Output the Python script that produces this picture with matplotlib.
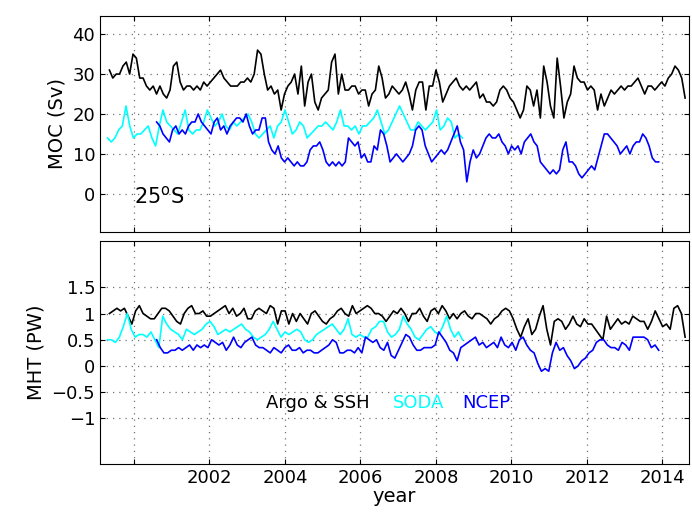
import numpy as np
import matplotlib.pyplot as plt

# MOC (Sv)
moc_argo = [31,29,30,30,32,33,30,35,34,29,29,27,26,27,25,27,25,24,26,32,33,28,26,27,27,26,27,26,28,27,28,29,30,31,29,28,27,27,27,28,28,29,28,30,36,35,30,26,27,25,26,21,25,27,28,30,25,32,22,28,30,23,21,24,25,26,33,35,25,30,26,26,27,27,25,26,26,22,25,26,32,29,24,25,27,26,25,26,28,25,21,26,28,28,21,27,27,31,28,23,25,27,28,29,27,26,27,26,27,28,24,25,23,23,22,23,26,27,26,24,23,21,19,21,27,26,22,26,19,32,28,22,19,34,27,19,23,25,32,29,28,28,26,27,26,21,25,22,24,26,25,26,27,26,27,27,28,29,27,25,27,27,26,27,28,27,29,30,32,31,29,24]
moc_soda = [14,13,14,16,17,22,17,14,15,15,16,17,14,12,17,21,18,17,16,15,18,21,16,15,16,16,18,21,19,17,18,20,17,16,18,17,18,19,20,18,15,14,15,16,17,14,17,18,21,18,15,16,18,17,14,15,16,17,17,18,17,16,18,21,17,17,16,17,15,17,17,18,19,21,18,15,16,18,20,22,20,18,16,16,18,17,16,17,18,21,16,17,19,18,14,15,14]
moc_ncep = [18,17,15,14,13,16,17,15,16,15,17,18,18,20,18,17,16,15,18,19,16,17,15,17,18,19,19,18,20,17,15,16,16,19,19,13,11,10,12,9,8,9,8,7,8,7,7,8,11,12,12,13,11,8,7,8,7,8,7,8,14,13,12,13,9,10,8,8,12,11,16,15,12,8,9,10,9,8,9,10,12,16,17,16,12,10,8,9,10,11,10,11,13,15,17,13,11,3,8,11,9,10,12,14,15,14,14,15,13,12,10,12,11,12,10,13,14,15,13,12,8,7,6,5,6,5,6,11,13,8,8,7,5,4,5,6,7,6,9,12,15,15,14,13,12,10,11,12,10,12,13,13,15,14,12,9,8,8]

# MHT (PW)
mht_argo = [1.0,1.05,1.1,1.05,1.1,0.95,0.8,1.05,1.15,1.0,0.95,0.9,0.9,1.0,1.1,1.1,1.05,0.95,0.85,0.8,1.0,1.1,1.15,1.0,1.0,1.05,0.95,0.95,1.0,1.05,1.1,1.15,1.0,1.1,0.95,1.0,1.1,0.9,0.9,1.05,1.1,1.05,1.0,1.15,1.1,0.8,1.05,1.05,0.8,1.0,0.85,1.0,0.9,0.8,1.0,1.05,0.95,0.85,0.8,0.9,0.95,1.05,1.1,1.0,0.95,1.15,1.0,1.05,1.1,1.15,1.1,1.0,1.0,0.95,0.85,0.95,1.05,1.0,1.1,1.0,0.85,1.0,1.0,1.1,0.95,0.85,1.05,1.1,1.0,1.15,1.05,0.9,1.0,0.9,1.0,1.05,0.95,0.9,1.0,1.0,0.95,0.9,0.8,0.9,0.95,1.05,1.1,1.05,0.9,0.7,0.55,0.75,0.9,0.6,0.7,0.95,1.15,0.7,0.4,0.85,0.9,0.85,0.7,0.8,0.95,0.8,0.75,0.9,0.8,0.8,0.7,0.6,0.5,0.95,0.7,0.8,0.9,0.8,0.85,0.8,0.95,0.9,0.85,0.85,0.7,0.85,1.05,0.9,0.75,0.8,0.7,1.1,1.15,1.0,0.55]
mht_soda = [0.5,0.5,0.45,0.55,0.75,1.0,0.7,0.55,0.6,0.6,0.55,0.65,0.5,0.35,0.95,0.8,0.7,0.65,0.6,0.5,0.7,0.65,0.6,0.65,0.7,0.8,0.85,0.75,0.6,0.65,0.7,0.65,0.7,0.75,0.8,0.7,0.65,0.55,0.5,0.55,0.6,0.7,0.85,0.7,0.55,0.65,0.6,0.65,0.7,0.65,0.5,0.45,0.5,0.6,0.65,0.7,0.75,0.8,0.7,0.6,0.7,0.9,0.6,0.55,0.6,0.55,0.55,0.7,0.75,0.85,0.85,0.65,0.55,0.6,0.7,0.95,0.8,0.7,0.55,0.5,0.6,0.7,0.75,0.65,0.6,0.75,0.95,0.7,0.55,0.65,0.5]
mht_ncep = [0.5,0.35,0.25,0.25,0.3,0.3,0.35,0.3,0.35,0.4,0.3,0.4,0.35,0.4,0.35,0.5,0.45,0.4,0.45,0.3,0.4,0.55,0.4,0.35,0.45,0.5,0.55,0.4,0.35,0.35,0.3,0.25,0.35,0.3,0.25,0.35,0.4,0.3,0.3,0.35,0.25,0.3,0.3,0.25,0.25,0.3,0.35,0.4,0.5,0.45,0.25,0.25,0.3,0.3,0.25,0.35,0.25,0.55,0.5,0.45,0.5,0.35,0.3,0.45,0.2,0.15,0.3,0.45,0.6,0.55,0.4,0.3,0.3,0.35,0.35,0.35,0.4,0.65,0.55,0.45,0.3,0.25,0.1,0.35,0.4,0.45,0.5,0.55,0.4,0.45,0.35,0.4,0.45,0.35,0.55,0.4,0.35,0.45,0.3,0.5,0.55,0.4,0.3,0.25,0.05,-0.1,-0.05,-0.1,0.25,0.45,0.3,0.35,0.2,0.1,-0.05,0.0,0.1,0.15,0.25,0.3,0.45,0.5,0.5,0.4,0.35,0.35,0.3,0.45,0.4,0.3,0.55,0.55,0.55,0.55,0.5,0.35,0.4,0.3]

# time spans of each record (years)
span_argo = (1999.35, 2014.6)
span_soda = (1999.3, 2008.7)
span_ncep = (2000.6, 2013.9)

fig = plt.figure(figsize=(6.92, 5.22), dpi=100)
ax1 = fig.add_axes([0.1445, 0.556, 0.851, 0.413])
ax2 = fig.add_axes([0.1445, 0.111, 0.851, 0.427])

def t(span, vals):
    return np.linspace(span[0], span[1], len(vals))

for ax, a, s, n in [(ax1, moc_argo, moc_soda, moc_ncep), (ax2, mht_argo, mht_soda, mht_ncep)]:
    ax.plot(t(span_argo, a), a, color="black", lw=1.2)
    ax.plot(t(span_soda, s), s, color="cyan", lw=1.2)
    ax.plot(t(span_ncep, n), n, color="blue", lw=1.2)
    ax.set_xlim(1999.1, 2014.7)
    ax.set_xticks(range(2000, 2015, 2))
    ax.grid(True, linestyle=(0, (1, 4)), color="0.45", lw=0.9)
    ax.tick_params(direction="in", labelsize=13, top=True, right=True)

ax1.set_ylim(-9.5, 44.5)
ax1.set_yticks([0, 10, 20, 30, 40])
ax1.set_xticklabels([])
ax1.set_ylabel("MOC (Sv)", fontsize=14)
ax1.text(2000.0, -2.5, "25$^{\\mathrm{o}}$S", fontsize=15)

ax2.set_ylim(-1.87, 2.38)
ax2.set_yticks([-1, -0.5, 0, 0.5, 1, 1.5])
ax2.set_yticklabels(["\u22121", "\u22120.5", "0", "0.5", "1", "1.5"])
ax2.set_xticklabels(["", "2002", "2004", "2006", "2008", "2010", "2012", "2014"])
ax2.set_ylabel("MHT (PW)", fontsize=14)
ax2.set_xlabel("year", fontsize=14, labelpad=0)
ax2.text(2003.5, -0.8, "Argo & SSH", fontsize=13, color="black")
ax2.text(2006.85, -0.8, "SODA", fontsize=13, color="cyan")
ax2.text(2008.7, -0.8, "NCEP", fontsize=13, color="blue")

plt.savefig("out.png", dpi=100)
